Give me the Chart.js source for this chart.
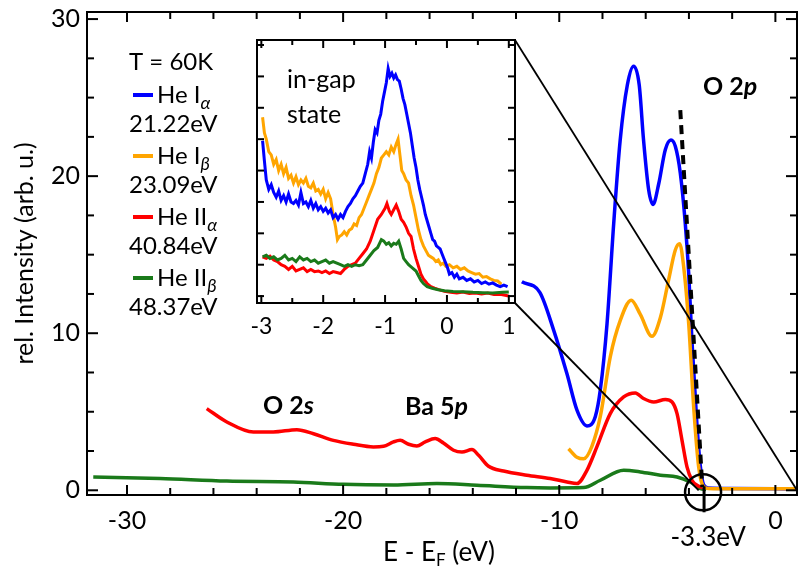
<!DOCTYPE html>
<html>
<head>
<meta charset="utf-8">
<script src="https://cdn.jsdelivr.net/npm/chart.js@4.4.1/dist/chart.umd.min.js"></script>
<style>
  body { margin: 0; background: #fff; }
  #wrap { position: relative; width: 798px; height: 573px; }
  canvas { position: absolute; }
  #mainChart { left: 0; top: 0; }
  #insetChart { left: 240px; top: 30px; }
</style>
</head>
<body>
<div id="wrap">
  <canvas id="mainChart" width="798" height="573"></canvas>
  <canvas id="insetChart" width="290" height="312"></canvas>
</div>
<script>
const FONT = 'Lato, "Open Sans", sans-serif';

// legend / series labels
const seriesNames = ['He I', 'He I', 'He II', 'He II'];
const seriesSubs = ['α', 'β', 'α', 'β'];
const photonEnergies = ['21.22eV', '23.09eV', '40.84eV', '48.37eV'];
const seriesColors = ['#0000ff', '#ffa500', '#ff0000', '#1a7a1a'];

// main axes ticks
const xTickValues = [-30, -20, -10, 0];
const yTickValues = [0, 10, 20, 30];
const insetTickValues = [-3, -2, -1, 0, 1];

// main spectra: E - EF (eV) and intensity
const heIaE = [-11.73, -10.9, -10.26, -9.64, -9.18, -8.72, -8.33, -8.1, -7.79, -7.48, -7.18, -6.85, -6.56, -6.3, -6.1, -5.86, -5.66, -5.4, -5.09, -4.83, -4.63, -4.4, -4.17, -4.01, -3.86, -3.63, -3.47, -3.32, -3.1, -2, 0, 1.0];
const heIaI = [13.27, 12.6, 10.2, 7.4, 5.1, 4.1, 4.7, 6.4, 10.6, 17.0, 22.3, 25.8, 27.0, 25.8, 22.3, 19.1, 18.2, 19.5, 21.7, 22.3, 21.9, 20.2, 17.0, 13.8, 9.5, 4.2, 1.5, 0.35, 0.15, 0.12, 0.1, 0.08];

const heIbE = [-9.57, -9.18, -8.87, -8.49, -8.1, -7.64, -7.18, -6.67, -6.25, -5.71, -5.32, -4.94, -4.63, -4.43, -4.24, -4.01, -3.78, -3.55, -3.33, -3.1, -2, 0, 1.0];
const heIbI = [2.65, 2.1, 2.0, 2.8, 4.7, 8.5, 10.8, 12.1, 11.2, 9.8, 11.0, 13.4, 15.3, 15.7, 14.2, 10.6, 5.3, 1.5, 0.25, 0.12, 0.1, 0.1, 0.1];

const heIIaE = [-26.31, -25.38, -24.15, -23.23, -22.14, -21.37, -20.45, -19.52, -18.6, -18.13, -17.67, -17.36, -16.97, -16.59, -16.2, -15.74, -15.36, -14.89, -14.5, -14.04, -13.73, -13.27, -12.58, -11.5, -10.42, -9.64, -9.18, -8.72, -8.26, -7.64, -7.02, -6.48, -6.1, -5.63, -5.09, -4.78, -4.55, -4.32, -4.09, -3.86, -3.63, -3.3];
const heIIaI = [5.2, 4.35, 3.71, 3.71, 3.86, 3.6, 3.18, 2.93, 2.76, 2.8, 3.08, 3.18, 2.93, 2.82, 3.08, 3.29, 3.01, 2.55, 2.44, 2.59, 2.23, 1.53, 1.23, 0.96, 0.75, 0.53, 0.43, 1.27, 2.76, 4.88, 5.94, 6.2, 5.84, 5.62, 5.78, 5.62, 4.88, 3.18, 1.49, 0.64, 0.32, 0.15];

const heIIbE = [-31.56, -28.47, -25.38, -22.3, -19.98, -17.67, -15.66, -13.81, -11.5, -10.42, -8.87, -8.1, -7.02, -6.25, -5.32, -4.55, -3.94, -3.47, -3.2];
const heIIbI = [0.85, 0.75, 0.59, 0.53, 0.38, 0.34, 0.43, 0.32, 0.17, 0.15, 0.17, 0.64, 1.27, 1.17, 0.96, 0.85, 0.53, 0.11, 0.05];

// inset: in-gap state region
const gapIaE = [-2.98, -2.95, -2.92, -2.88, -2.84, -2.8, -2.76, -2.72, -2.68, -2.64, -2.6, -2.56, -2.52, -2.48, -2.44, -2.4, -2.36, -2.32, -2.28, -2.24, -2.2, -2.16, -2.12, -2.08, -2.04, -2.0, -1.96, -1.92, -1.88, -1.84, -1.8, -1.76, -1.72, -1.68, -1.64, -1.6, -1.56, -1.52, -1.48, -1.44, -1.4, -1.36, -1.32, -1.28, -1.25, -1.22, -1.19, -1.16, -1.13, -1.1, -1.07, -1.04, -1.01, -0.98, -0.95, -0.92, -0.89, -0.86, -0.83, -0.8, -0.77, -0.74, -0.71, -0.68, -0.65, -0.62, -0.59, -0.56, -0.53, -0.5, -0.47, -0.44, -0.41, -0.38, -0.35, -0.32, -0.29, -0.26, -0.23, -0.2, -0.17, -0.14, -0.11, -0.08, -0.05, -0.02, 0.01, 0.04, 0.08, 0.12, 0.16, 0.2, 0.26, 0.32, 0.38, 0.44, 0.5, 0.56, 0.62, 0.68, 0.74, 0.8, 0.86, 0.92, 0.98];
const gapIaI = [4.95, 4.3, 3.7, 3.4, 3.55, 3.3, 3.15, 3.35, 3.05, 3.2, 3.0, 3.25, 3.0, 2.95, 3.05, 2.9, 3.3, 2.95, 3.0, 2.85, 3.05, 2.8, 2.95, 2.75, 2.85, 2.7, 2.8, 2.65, 2.75, 2.5, 2.6, 2.45, 2.6, 2.5, 2.7, 2.85, 2.95, 3.1, 3.2, 3.35, 3.5, 3.6, 3.9, 4.2, 4.6, 4.4, 4.9, 5.3, 5.2, 5.6, 5.8, 6.2, 6.5, 6.8, 7.25, 7.0, 7.1, 6.95, 7.05, 6.9, 6.85, 6.6, 6.3, 6.1, 5.8, 5.5, 5.2, 4.8, 4.4, 4.1, 3.7, 3.4, 3.15, 2.9, 2.6, 2.4, 2.2, 2.0, 1.8, 1.75, 1.6, 1.55, 1.5, 1.35, 1.2, 1.05, 0.9, 0.7, 0.75, 0.6, 0.7, 0.55, 0.6, 0.5, 0.55, 0.45, 0.5, 0.4, 0.45, 0.38, 0.42, 0.35, 0.3, 0.35, 0.3];

const gapIbE = [-2.98, -2.95, -2.92, -2.88, -2.84, -2.8, -2.76, -2.72, -2.68, -2.64, -2.6, -2.56, -2.52, -2.48, -2.44, -2.4, -2.36, -2.32, -2.28, -2.24, -2.2, -2.16, -2.12, -2.08, -2.04, -2.0, -1.96, -1.92, -1.88, -1.84, -1.8, -1.77, -1.74, -1.7, -1.66, -1.62, -1.58, -1.54, -1.5, -1.46, -1.42, -1.38, -1.34, -1.3, -1.26, -1.22, -1.18, -1.14, -1.1, -1.06, -1.02, -0.98, -0.94, -0.9, -0.86, -0.82, -0.79, -0.76, -0.73, -0.7, -0.66, -0.62, -0.58, -0.54, -0.5, -0.46, -0.42, -0.38, -0.34, -0.3, -0.26, -0.22, -0.18, -0.14, -0.1, -0.06, -0.02, 0.04, 0.1, 0.16, 0.22, 0.28, 0.34, 0.4, 0.46, 0.52, 0.58, 0.64, 0.7, 0.76, 0.82, 0.88];
const gapIbI = [5.7, 5.2, 5.0, 4.6, 4.5, 4.2, 4.35, 4.0, 4.2, 3.9, 4.1, 3.75, 3.85, 3.6, 3.8, 3.55, 3.7, 3.6, 3.75, 3.5, 3.45, 3.6, 3.35, 3.4, 3.25, 3.4, 3.1, 3.3, 3.1, 2.6, 2.2, 1.8, 1.9, 1.95, 2.05, 1.95, 2.1, 2.15, 2.3, 2.25, 2.5, 2.6, 2.8, 3.0, 3.2, 3.4, 3.6, 3.9, 4.1, 4.4, 4.5, 4.6, 4.5, 4.75, 4.6, 4.85, 5.0, 4.5, 4.0, 3.9, 3.7, 3.6, 3.2, 2.9, 2.5, 2.1, 1.8, 1.6, 1.45, 1.3, 1.25, 1.2, 1.1, 1.15, 1.0, 1.05, 0.95, 1.0, 0.9, 0.95, 0.85, 0.9, 0.8, 0.75, 0.7, 0.72, 0.6, 0.62, 0.55, 0.5, 0.48, 0.38];

const gapIIaE = [-2.98, -2.92, -2.86, -2.8, -2.74, -2.68, -2.62, -2.56, -2.5, -2.44, -2.38, -2.32, -2.26, -2.2, -2.14, -2.08, -2.02, -1.96, -1.9, -1.84, -1.78, -1.72, -1.66, -1.6, -1.54, -1.48, -1.42, -1.36, -1.3, -1.24, -1.18, -1.12, -1.06, -1.0, -0.97, -0.93, -0.9, -0.86, -0.82, -0.78, -0.74, -0.7, -0.66, -0.62, -0.58, -0.54, -0.5, -0.46, -0.42, -0.38, -0.32, -0.26, -0.2, -0.12, -0.04, 0.06, 0.16, 0.26, 0.36, 0.46, 0.56, 0.66, 0.76, 0.86, 0.96, 1.0];
const gapIIaI = [1.25, 1.2, 1.27, 1.15, 1.1, 1.0, 0.95, 0.85, 0.95, 0.8, 0.85, 0.9, 0.78, 0.85, 0.78, 0.8, 0.75, 0.8, 0.72, 0.78, 0.75, 0.72, 0.85, 0.95, 1.0, 1.05, 1.2, 1.35, 1.5, 1.75, 2.1, 2.45, 2.6, 2.8, 2.95, 2.7, 2.6, 2.75, 2.9, 2.7, 2.45, 2.35, 2.2, 2.0, 1.9, 1.5, 1.2, 0.95, 0.7, 0.55, 0.4, 0.3, 0.25, 0.2, 0.15, 0.12, 0.1, 0.13, 0.08, 0.1, 0.07, 0.1, 0.05, 0.06, 0.02, 0.0];

const gapIIbE = [-2.98, -2.92, -2.86, -2.8, -2.74, -2.68, -2.62, -2.56, -2.5, -2.44, -2.38, -2.32, -2.26, -2.2, -2.14, -2.08, -2.02, -1.96, -1.9, -1.84, -1.78, -1.72, -1.66, -1.6, -1.54, -1.48, -1.42, -1.36, -1.3, -1.24, -1.18, -1.12, -1.06, -1.02, -0.98, -0.94, -0.9, -0.86, -0.82, -0.78, -0.74, -0.7, -0.66, -0.62, -0.56, -0.5, -0.46, -0.42, -0.38, -0.32, -0.24, -0.14, -0.04, 0.1, 0.26, 0.42, 0.58, 0.74, 0.9, 1.0];
const gapIIbI = [1.25, 1.3, 1.2, 1.25, 1.15, 1.2, 1.3, 1.15, 1.2, 1.1, 1.25, 1.15, 1.2, 1.1, 1.15, 1.05, 1.1, 1.15, 1.05, 1.1, 1.05, 1.0, 0.95, 1.0, 0.95, 1.0, 0.97, 1.0, 1.15, 1.3, 1.45, 1.55, 1.8, 1.75, 1.65, 1.7, 1.6, 1.68, 1.65, 1.75, 1.5, 1.2, 1.1, 1.0, 0.9, 0.8, 0.65, 0.5, 0.4, 0.3, 0.25, 0.2, 0.17, 0.15, 0.14, 0.12, 0.11, 0.1, 0.12, 0.13];

function toPoints(xs, ys) {
    return xs.map((x, i) => ({ x: x, y: ys[i] }));
}

function line(ctx, x1, y1, x2, y2) {
    ctx.beginPath();
    ctx.moveTo(x1, y1);
    ctx.lineTo(x2, y2);
    ctx.stroke();
}

// draws text pieces one after another (for sub/italic parts)
function drawParts(ctx, parts, x, y) {
    parts.forEach(p => {
        ctx.font = (p.style || '') + ' ' + p.size + 'px ' + FONT;
        ctx.fillText(p.text, x, y + (p.dy || 0));
        x += ctx.measureText(p.text).width;
    });
}

const insetDecor = {
    id: 'insetDecor',
    afterDraw(chart) {
        const { ctx, chartArea: a, scales: { x, y } } = chart;
        ctx.save();
        ctx.strokeStyle = '#000';
        ctx.lineWidth = 2;
        ctx.strokeRect(a.left, a.top, a.right - a.left, a.bottom - a.top);
        for (let v = insetTickValues[0]; v <= insetTickValues[insetTickValues.length - 1]; v += 0.5) {
            const px = x.getPixelForValue(v);
            const len = Number.isInteger(v) ? 8 : 5;
            line(ctx, px, a.bottom, px, a.bottom - len);
            line(ctx, px, a.top, px, a.top + len);
        }
        for (let v = 0; v <= 8; v++) {
            const py = y.getPixelForValue(v);
            line(ctx, a.left, py, a.left + 7, py);
            line(ctx, a.right, py, a.right - 7, py);
        }
        ctx.fillStyle = '#000';
        ctx.textBaseline = 'middle';
        ctx.textAlign = 'left';
        ctx.font = '25px ' + FONT;
        ctx.fillText('in-gap', a.left + 30, a.top + 40);
        ctx.fillText('state', a.left + 30, a.top + 75);
        ctx.restore();
    }
};

const insetChart = new Chart(document.getElementById('insetChart'), {
    type: 'line',
    data: {
        datasets: [
            { data: toPoints(gapIaE, gapIaI), borderColor: seriesColors[0] },
            { data: toPoints(gapIbE, gapIbI), borderColor: seriesColors[1] },
            { data: toPoints(gapIIbE, gapIIbI), borderColor: seriesColors[3] },
            { data: toPoints(gapIIaE, gapIIaI), borderColor: seriesColors[2] }
        ]
    },
    options: {
        responsive: false,
        animation: false,
        events: [],
        datasets: { line: { borderWidth: 3, pointRadius: 0, tension: 0 } },
        layout: { padding: { left: 17, top: 10, right: 15 } },
        plugins: { legend: { display: false }, tooltip: { enabled: false } },
        scales: {
            x: {
                type: 'linear', min: -3.07, max: 1.1,
                grid: { display: false, drawTicks: false },
                border: { display: false },
                ticks: { font: { family: FONT, size: 23 }, color: '#000', padding: 10, maxRotation: 0 },
                afterBuildTicks: s => { s.ticks = insetTickValues.map(v => ({ value: v })); },
                afterFit: s => { s.height = 39; s.paddingLeft = 0; s.paddingRight = 0; }
            },
            y: { display: false, min: -0.22, max: 8.16 }
        }
    },
    plugins: [insetDecor]
});

const mainDecor = {
    id: 'mainDecor',
    afterDraw(chart) {
        const { ctx, chartArea: a, scales: { x, y } } = chart;
        ctx.save();
        ctx.strokeStyle = '#000';
        ctx.lineWidth = 2;
        ctx.strokeRect(a.left, a.top, a.right - a.left, a.bottom - a.top);

        // inward ticks on all four sides
        for (let v = xTickValues[0]; v <= xTickValues[xTickValues.length - 1]; v += 2) {
            const px = x.getPixelForValue(v);
            const len = xTickValues.includes(v) ? 10 : 7;
            line(ctx, px, a.bottom, px, a.bottom - len);
            line(ctx, px, a.top, px, a.top + len);
        }
        for (let v = yTickValues[0]; v <= yTickValues[yTickValues.length - 1]; v += 2.5) {
            const py = y.getPixelForValue(v);
            const len = yTickValues.includes(v) ? 11 : 7;
            line(ctx, a.left, py, a.left + len, py);
            line(ctx, a.right, py, a.right - len, py);
        }

        // Fermi edge marker at -3.3 eV
        const ex = x.getPixelForValue(-3.3);
        const ey = y.getPixelForValue(0);
        ctx.lineWidth = 3;
        line(ctx, ex, ey - 4, ex, ey + 22);
        ctx.lineWidth = 2.5;
        ctx.beginPath();
        ctx.arc(ex - 1, ey + 2, 18, 0, Math.PI * 2);
        ctx.stroke();

        ctx.lineWidth = 4;
        ctx.setLineDash([9, 6]);
        line(ctx, x.getPixelForValue(-4.4), y.getPixelForValue(24.2), x.getPixelForValue(-3.38), y.getPixelForValue(0.2));
        ctx.setLineDash([]);

        // zoom lines from inset corners
        const ia = insetChart.chartArea;
        const ox = insetChart.canvas.offsetLeft - chart.canvas.offsetLeft;
        const oy = insetChart.canvas.offsetTop - chart.canvas.offsetTop;
        ctx.lineWidth = 1.8;
        line(ctx, ox + ia.right, oy + ia.top, x.getPixelForValue(x.max), y.getPixelForValue(0));
        line(ctx, ox + ia.right, oy + ia.bottom, x.getPixelForValue(-3.55), y.getPixelForValue(0));

        // legend
        ctx.fillStyle = '#000';
        ctx.textBaseline = 'middle';
        ctx.textAlign = 'left';
        ctx.font = '24px ' + FONT;
        ctx.fillText('T = 60K', 129, 62);
        seriesNames.forEach((name, i) => {
            const ly = 95 + i * 61;
            ctx.strokeStyle = seriesColors[i];
            ctx.lineWidth = 4;
            line(ctx, 133, ly, 153, ly);
            ctx.fillStyle = '#000';
            drawParts(ctx, [
                { text: name, size: 24 },
                { text: seriesSubs[i], size: 18, dy: 8, style: 'italic' }
            ], 157, ly);
            ctx.font = '24px ' + FONT;
            ctx.fillText(photonEnergies[i], 129, ly + 29);
        });

        // peak annotations
        drawParts(ctx, [{ text: 'O 2', size: 25, style: 'bold' }, { text: 'p', size: 25, style: 'italic bold' }], 703, 87);
        drawParts(ctx, [{ text: 'O 2', size: 25, style: 'bold' }, { text: 's', size: 25, style: 'italic bold' }], 263, 406);
        drawParts(ctx, [{ text: 'Ba 5', size: 25, style: 'bold' }, { text: 'p', size: 25, style: 'italic bold' }], 405, 407);

        ctx.font = '26px ' + FONT;
        ctx.textAlign = 'center';
        ctx.fillText('-3.3eV', ex + 4, 538);
        ctx.textAlign = 'left';
        drawParts(ctx, [
            { text: 'E - E', size: 26 },
            { text: 'F', size: 17, dy: 8 },
            { text: ' (eV)', size: 26 }
        ], 383, 553);
        ctx.restore();
    }
};

new Chart(document.getElementById('mainChart'), {
    type: 'line',
    data: {
        datasets: [
            { data: toPoints(heIbE, heIbI), borderColor: seriesColors[1] },
            { data: toPoints(heIaE, heIaI), borderColor: seriesColors[0] },
            { data: toPoints(heIIaE, heIIaI), borderColor: seriesColors[2] },
            { data: toPoints(heIIbE, heIIbI), borderColor: seriesColors[3] }
        ]
    },
    options: {
        responsive: false,
        animation: false,
        events: [],
        datasets: { line: { borderWidth: 3.5, pointRadius: 0, cubicInterpolationMode: 'monotone' } },
        layout: { padding: { top: 12, right: 1 } },
        plugins: { legend: { display: false }, tooltip: { enabled: false } },
        scales: {
            x: {
                type: 'linear', min: -31.85, max: 1.0,
                grid: { display: false, drawTicks: false },
                border: { display: false },
                ticks: { font: { family: FONT, size: 25 }, color: '#000', padding: 11, maxRotation: 0 },
                afterBuildTicks: s => { s.ticks = xTickValues.map(v => ({ value: v })); },
                afterFit: s => { s.height = 78; s.paddingLeft = 0; s.paddingRight = 0; }
            },
            y: {
                min: -0.3, max: 30.45,
                grid: { display: false, drawTicks: false },
                border: { display: false },
                ticks: { font: { family: FONT, size: 25 }, color: '#000', padding: 7 },
                afterBuildTicks: s => { s.ticks = yTickValues.map(v => ({ value: v })); },
                afterFit: s => { s.width = 87; s.paddingTop = 0; s.paddingBottom = 0; },
                title: {
                    display: true, text: 'rel. Intensity (arb. u.)', color: '#000',
                    font: { family: FONT, size: 25 }, padding: { top: 10, bottom: 0 }
                }
            }
        }
    },
    plugins: [mainDecor]
});
</script>
</body>
</html>
